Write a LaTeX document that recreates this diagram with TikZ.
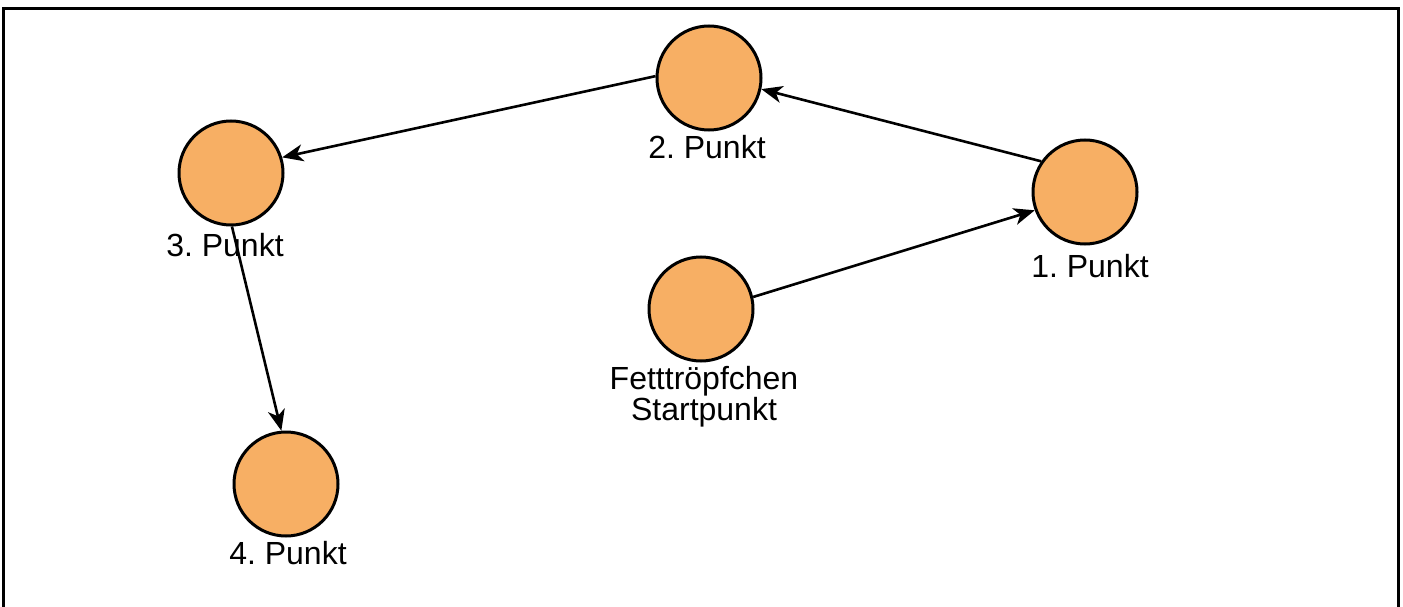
\documentclass[tikz,border=0pt]{standalone}
\usepackage{fontspec}
\setmainfont{Liberation Sans}
\usetikzlibrary{arrows.meta}
\definecolor{dotfill}{RGB}{247,175,100}
\frenchspacing
\begin{document}
\begin{tikzpicture}[x=1pt,y=-1pt,
  dot/.style={circle,draw=black,line width=3pt,fill=dotfill,minimum size=104pt,inner sep=0pt},
  lbl/.style={font=\fontsize{32}{31}\selectfont,align=center,inner sep=0pt,text=black},
  conn/.style={line width=2.6pt,-{Stealth[length=21pt,width=17pt,inset=6pt]}}]
\useasboundingbox (0,0) rectangle (1403,607);
\draw[line width=2.8pt] (3.5,610) -- (3.5,8.5) -- (1398.5,8.5) -- (1398.5,610);
\node[dot] (p2) at (709,78) {};
\node[dot] (p3) at (231,173) {};
\node[dot] (p1) at (1085,192) {};
\node[dot] (p0) at (701,309) {};
\node[dot] (p4) at (286,484) {};
\node[lbl] (l2) at (707,147) {2. Punkt};
\node[lbl] (l3) at (225,245) {3. Punkt};
\node[lbl] (l1) at (1090,266) {1. Punkt};
\node[lbl] (l0) at (704,397) {Fetttröpfchen\\Startpunkt};
\node[lbl] (l4) at (288,553) {4. Punkt};
\draw[conn] (p0.13) -- (p1.200);
\draw[conn] (p1.145) -- (p2.-12);
\draw[conn] (p2.178) -- (p3.17);
\draw[conn] (p3.-89) -- (p4.95);
\end{tikzpicture}
\end{document}
